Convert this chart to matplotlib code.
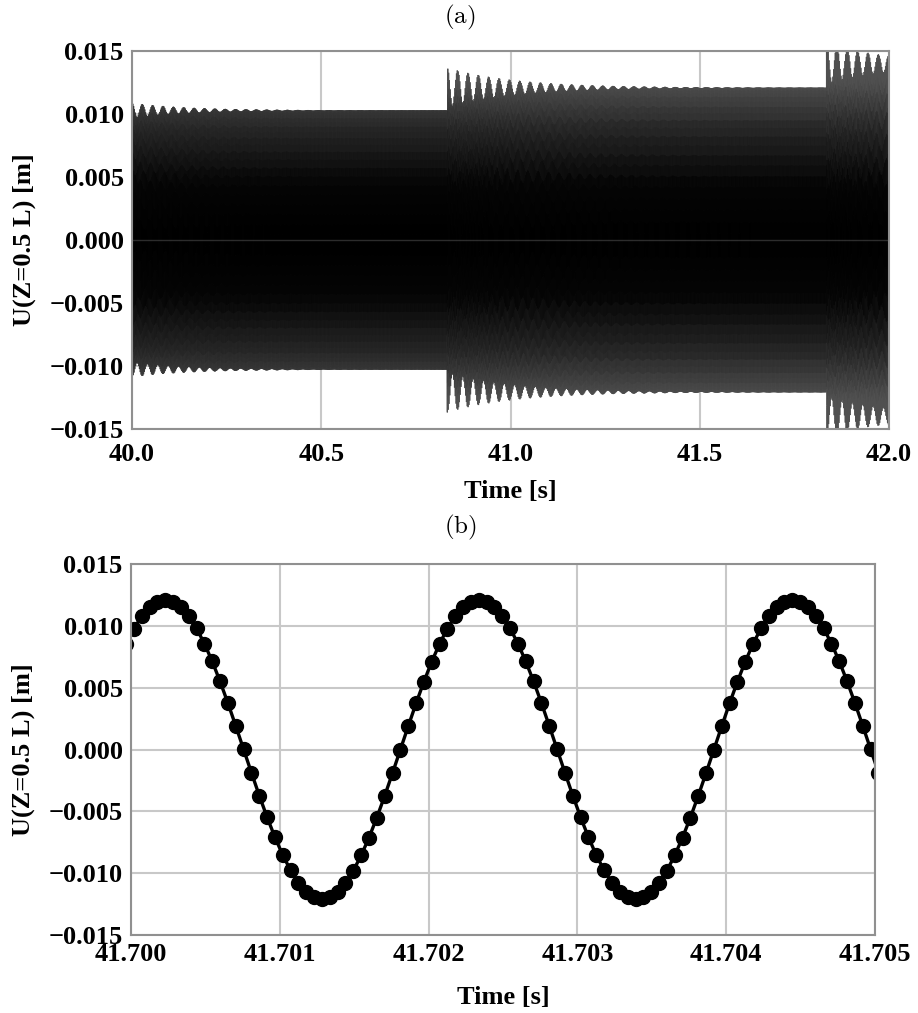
import numpy as np
import matplotlib
matplotlib.use("Agg")
import matplotlib.pyplot as plt
from matplotlib.collections import LineCollection
from matplotlib.colors import LinearSegmentedColormap

# ---- values ----
# carrier (from panel b): peak time and period
carrier_peak_time = 41.70023      # s
carrier_period = 0.002107         # s
samples_per_period = 40           # markers per cycle in panel (b)

# panel (a): three load segments
seg_start = [40.0, 40.833, 41.835]        # s
seg_amp = [0.0103, 0.0121, 0.0140]        # steady amplitude [m]
seg_beat_amp = [0.0006, 0.0016, 0.0016]   # initial beat amplitude [m]
seg_beat_decay = [0.15, 0.18, 0.18]       # s
beat_freq = 36.5                          # Hz

xlim_a = [40.0, 42.0]
xticks_a = [40.0, 40.5, 41.0, 41.5, 42.0]
xlim_b = [41.700, 41.705]
xticks_b = [41.700, 41.701, 41.702, 41.703, 41.704, 41.705]
yticks = [-0.015, -0.010, -0.005, 0.000, 0.005, 0.010, 0.015]
ylabel = "U(Z=0.5 L) [m]"
xlabel = "Time [s]"
titles = ["(a)", "(b)"]

# ---- build signal ----
f = 1.0 / carrier_period
dt = carrier_period / samples_per_period


def signal(t):
    u = np.zeros_like(t)
    for i, ts in enumerate(seg_start):
        te = seg_start[i + 1] if i + 1 < len(seg_start) else np.inf
        m = (t >= ts) & (t < te)
        tt = t[m]
        ph = 2 * np.pi * f * (tt - carrier_peak_time)
        u[m] = seg_amp[i] * np.cos(ph) + seg_beat_amp[i] * np.exp(-(tt - ts) / seg_beat_decay[i]) * \
            np.cos(ph + 2 * np.pi * beat_freq * (tt - ts))
    return u


t_a = np.arange(xlim_a[0], xlim_a[1] + dt, dt)
u_a = signal(t_a)
k0 = int(np.floor((xlim_b[0] - carrier_peak_time) / dt))
t_b = carrier_peak_time + dt * np.arange(k0, k0 + 100)
u_b = signal(t_b)

# ---- figure ----
plt.rcParams['font.family'] = ['Liberation Serif', 'DejaVu Serif']
plt.rcParams['font.weight'] = 'bold'
plt.rcParams['mathtext.fontset'] = 'cm'

fig = plt.figure(figsize=(9.18, 10.13), dpi=100)
ax_a = fig.add_axes([132 / 918, 1 - 429 / 1013, (889 - 132) / 918, (429 - 51) / 1013])
ax_b = fig.add_axes([131 / 918, 1 - 935 / 1013, (875 - 131) / 918, (935 - 564) / 1013])

# dense trace: segments shaded by distance from zero (black core, grey edges)
pts = np.column_stack([t_a, u_a])
segs = np.stack([pts[:-1], pts[1:]], axis=1)
umid = np.abs(0.5 * (u_a[:-1] + u_a[1:])) / 0.0125
cmap = LinearSegmentedColormap.from_list('dense', [(0.0, '#000000'), (0.35, '#050505'),
                                                   (0.7, '#262626'), (1.0, '#505050')])
lc = LineCollection(segs, colors=cmap(np.clip(umid, 0, 1)), linewidths=0.9, zorder=2)
ax_a.add_collection(lc)

ax_b.plot(t_b, u_b, color='black', lw=2.4, marker='o', ms=10, zorder=2)

for ax, xl, xt, tpad, lpad in [(ax_a, xlim_a, xticks_a, 10, 10), (ax_b, xlim_b, xticks_b, 6, 14)]:
    ax.set_xlim(xl)
    ax.set_ylim(-0.015, 0.015)
    ax.set_xticks(xt)
    ax.set_yticks(yticks)
    ax.grid(True, color='#c8c8c8', lw=1.5, zorder=0)
    ax.set_axisbelow(True)
    ax.tick_params(length=0, labelsize=19)
    ax.tick_params(axis='y', pad=6)
    ax.tick_params(axis='x', pad=tpad)
    for s in ax.spines.values():
        s.set_color('#909090')
        s.set_linewidth(1.5)
    ax.set_ylabel(ylabel, fontsize=19, fontweight='bold', labelpad=10)
    ax.set_xlabel(xlabel, fontsize=19, fontweight='bold', labelpad=lpad)
    ax.yaxis.set_major_formatter(matplotlib.ticker.FuncFormatter(
        lambda v, p: ("\u2212" if v < -1e-12 else "") + f"{abs(v):.3f}"))

# faint zero line visible through the dense trace, as in the reference
ax_a.axhline(0.0, color='#808080', lw=1.0, alpha=0.35, zorder=3)

ax_a.xaxis.set_major_formatter(matplotlib.ticker.FormatStrFormatter('%.1f'))
ax_b.xaxis.set_major_formatter(matplotlib.ticker.FormatStrFormatter('%.3f'))

fig.text(460 / 918, 1 - 17 / 1013, r'$\mathrm{(a)}$', ha='center', va='center', fontsize=18)
fig.text(460 / 918, 1 - 527 / 1013, r'$\mathrm{(b)}$', ha='center', va='center', fontsize=18)

fig.savefig('out.png', dpi=100)
